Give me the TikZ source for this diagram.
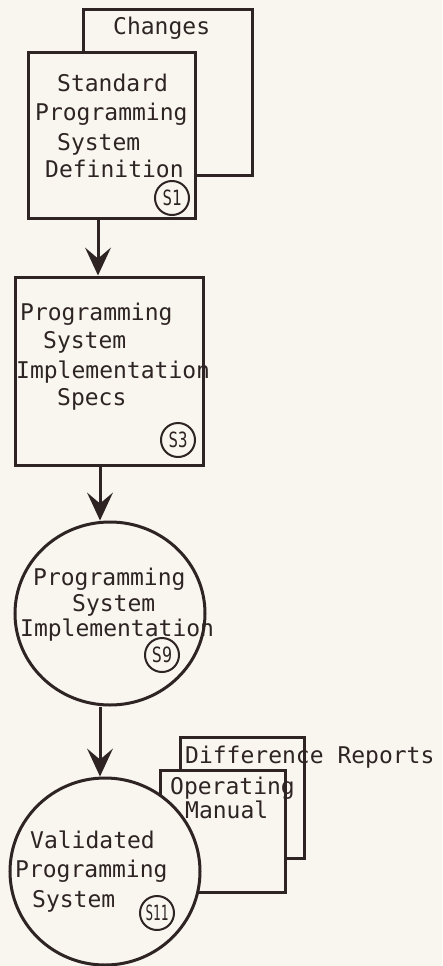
\documentclass[tikz,border=0pt]{standalone}
\usepackage{fontspec}
\usepackage{graphicx}
\usetikzlibrary{arrows.meta,shapes.geometric}
\newfontfamily\typewriter{DejaVu Sans Mono}
\definecolor{paper}{HTML}{F8F6EF}
\definecolor{ink}{HTML}{2E2424}
\tikzset{
  doc/.style={draw=ink, fill=paper, line width=3pt, rectangle, inner sep=0pt},
  proc/.style={draw=ink, fill=paper, line width=3pt, ellipse, inner sep=0pt},
  tag/.style={draw=ink, line width=2pt, circle, minimum size=34pt, inner sep=0pt,
    font=\typewriter\fontsize{21}{21}\selectfont, text=ink},
  txt/.style={anchor=base west, inner sep=0pt, text=ink,
    font=\typewriter\fontsize{23}{28}\selectfont},
  flow/.style={draw=ink, line width=3pt,
    -{Stealth[length=28pt, width=26pt, inset=11pt, line width=0pt]}}
}
\begin{document}
\begin{tikzpicture}[x=1pt, y=-1pt]
  \useasboundingbox[fill=paper] (0,0) rectangle (442,966);

  % definition and its changes
  \node[doc, minimum width=169pt, minimum height=165pt] (chg) at (167.5,92.5) {};
  \node[txt] (chgt) at (113,35) {Changes};
  \node[doc, minimum width=167pt, minimum height=165pt] (s1) at (111.5,135.5) {};
  \node[txt] (s1a) at (57,92) {Standard};
  \node[txt] (s1b) at (35,120) {Programming};
  \node[txt] (s1c) at (57,150) {System};
  \node[txt] (s1d) at (45,177) {Definition};
  \node[tag] (s1tag) at (172,198) {\scalebox{0.75}[1]{S1}};

  % implementation specs
  \node[doc, minimum width=188pt, minimum height=188pt] (s3) at (109,371) {};
  \node[txt] (s3a) at (20,320) {Programming};
  \node[txt] (s3b) at (43,348) {System};
  \node[txt] (s3c) at (16,378) {Implementation};
  \node[txt] (s3d) at (57,405) {Specs};
  \node[tag] (s3tag) at (178,440) {\scalebox{0.75}[1]{S3}};

  % implementation process
  \node[proc, minimum width=190pt, minimum height=183pt] (s9) at (110,613.5) {};
  \node[txt] (s9a) at (33,585) {Programming};
  \node[txt] (s9b) at (72,611) {System};
  \node[txt] (s9c) at (20,636) {Implementation};
  \node[tag] (s9tag) at (162,655) {\scalebox{0.8}[1]{S9}};

  % outputs of validation
  \node[doc, minimum width=124pt, minimum height=121pt] (dif) at (242,797.5) {};
  \node[txt] (dift) at (185,763) {Difference Reports};
  \node[doc, minimum width=125pt, minimum height=122pt] (man) at (222.5,831) {};
  \node[txt] (mana) at (170,794) {Operating};
  \node[txt] (manb) at (185,818) {Manual};

  % validation process
  \node[proc, minimum width=190pt, minimum height=187pt] (s11) at (105,871.5) {};
  \node[txt] (s11a) at (30,848) {Validated};
  \node[txt] (s11b) at (15,877) {Programming};
  \node[txt] (s11c) at (32,907) {System};
  \node[tag] (s11tag) at (157,913) {\scalebox{0.6}[1]{S11}};

  % connectors
  \coordinate (xa) at (98,0);
  \coordinate (xb) at (100,0);
  \draw[flow] (s1.south -| xa) -- (s3.north -| xa);
  \draw[flow] (s3.south -| xb) -- (s9.north -| xb);
  \draw[flow] (s9.south -| xb) -- (s11.north -| xb);
\end{tikzpicture}
\end{document}
